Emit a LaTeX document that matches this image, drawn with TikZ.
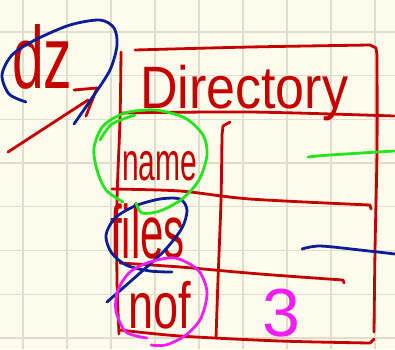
\documentclass[tikz,border=0pt]{standalone}
\usepackage{fontspec}
\setmainfont{Liberation Sans}
\definecolor{paper}{HTML}{FDFBEC}
\definecolor{gridc}{HTML}{E2DDCB}
\definecolor{ink}{HTML}{C40000}
\definecolor{navy}{HTML}{0C1E96}
\definecolor{lime}{HTML}{22E61A}
\definecolor{pink}{HTML}{F01EF0}
\tikzset{
  pen/.style={line width=2.8pt, line cap=round, line join=round},
  redpen/.style={pen, draw=ink},
  bluepen/.style={pen, draw=navy},
  greenpen/.style={pen, draw=lime},
  pinkpen/.style={pen, draw=pink},
  hand/.style={inner sep=0pt, text=ink},
}
\begin{document}
\begin{tikzpicture}[x=1pt,y=-1pt]
\fill[paper] (0,0) rectangle (395,349);
\useasboundingbox (0,0) rectangle (395,349);
% grid
\foreach \i in {0,...,8} \draw[gridc, line width=1.3pt] (23+44*\i,0) -- (23+44*\i,349);
\foreach \j in {0,...,7} \draw[gridc, line width=1.3pt] (0,32+43.7*\j) -- (395,32+43.7*\j);

% table frame
\draw[redpen] plot[smooth] coordinates {(121,52) (120,120) (117,200) (117,280) (119,334)};
\draw[redpen] plot[smooth] coordinates {(135,50) (250,47) (370,45)} -- (376,48) -- plot[smooth] coordinates {(377,55) (377,150) (375,250) (374,332)};
\draw[redpen] plot[smooth] coordinates {(120,113) (250,112) (394,116)};
\draw[redpen] (230,122) -- (223,126) -- plot[smooth] coordinates {(222,135) (221,200) (218,280) (216,338)};
\draw[redpen] plot[smooth] coordinates {(112,189) (180,191) (250,199) (370,205)} -- (371,209);
\draw[redpen] plot[smooth] coordinates {(120,263) (180,267) (260,274) (343,280)} -- (344,283);
\draw[redpen] plot[smooth] coordinates {(120,330) (180,336) (280,341) (370,343)} -- (374,339);

% arrow
\draw[redpen] (8,152) -- (88,100);
\draw[redpen] (74,90) -- (97,88) -- (86,116);

% texts
\node[hand, anchor=base west] (dz) at (12,88) {\fontsize{57}{57}\selectfont\scalebox{1}[1.55]{dz}};
\node[hand, anchor=base west] (title) at (140,108) {\fontsize{52}{52}\selectfont\scalebox{1}[1.15]{Directory}};
\node[hand, anchor=base west] (name) at (122,180) {\fontsize{30}{30}\selectfont\scalebox{1}[1.8]{name}};
\node[hand, anchor=base west] (files) at (110,258) {\fontsize{42}{42}\selectfont\scalebox{1}[1.8]{files}};
\node[hand, anchor=base west] (nof) at (128,328) {\fontsize{45}{45}\selectfont\scalebox{1}[1.45]{nof}};
\node[hand, text=pink, anchor=base west] (three) at (262,336) {\fontsize{68}{68}\selectfont 3};

% blue annotations
\draw[bluepen] plot[smooth] coordinates {(26,102) (9,94) (2,75) (12,55) (35,40) (70,25) (100,20) (114,28) (117,45) (110,70) (92,98) (74,124)};
\draw[bluepen] plot[smooth] coordinates {(172,272) (150,271) (126,265) (111,252) (106,235) (115,218) (135,206) (160,199) (180,199) (187,210) (182,228) (165,250) (140,273) (107,302)};
\draw[bluepen] plot[smooth] coordinates {(302,249) (320,246) (360,250) (395,254)};

% green annotations
\draw[greenpen] plot[smooth] coordinates {(123,202) (106,190) (97,170) (94,148) (103,126) (125,113) (155,110) (185,118) (203,135) (207,155) (199,180) (182,199) (160,211) (142,213) (136,203)};
\draw[greenpen] plot[smooth] coordinates {(100,140) (112,124) (135,115)};
\draw[greenpen] plot[smooth] coordinates {(308,157) (330,155) (394,151)};

% magenta annotation
\draw[pinkpen] plot[smooth] coordinates {(147,338) (126,332) (116,311) (118,290) (130,272) (150,262) (175,258) (198,270) (207,292) (201,318) (186,335) (166,345) (151,345)};
\end{tikzpicture}
\end{document}
